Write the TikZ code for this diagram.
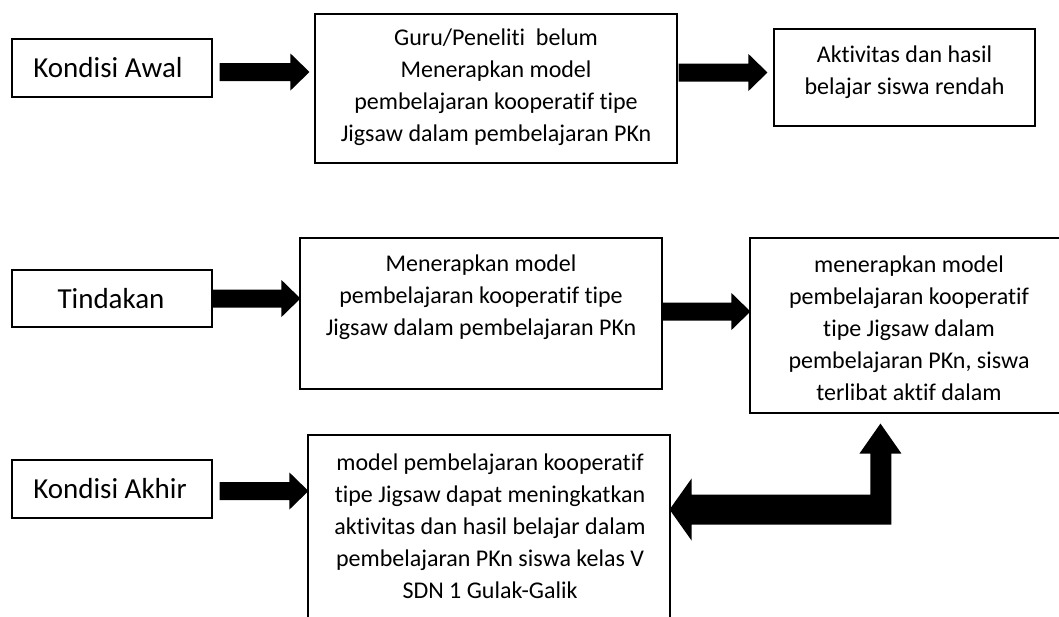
\documentclass[tikz,border=0pt]{standalone}
\usepackage{fontspec}
\setmainfont{Carlito}[Ligatures=NoCommon]
\usetikzlibrary{calc}
\tikzset{
  box/.style={draw=black, line width=1.1pt, rectangle, inner sep=0pt, fill=white},
  lbl/.style={font=\fontsize{29}{35}\selectfont, inner sep=0pt},
  txt/.style={font=\fontsize{24}{32}\selectfont, align=center, inner sep=0pt},
  arrfill/.style={fill=black},
}
\newcommand{\blockarr}[2]{%
  \fill[arrfill] let \p1=(#1), \p2=(#2) in
    (\x1,\y1+9pt) -- (\x2-19pt,\y1+9pt) -- (\x2-19pt,\y1+18.5pt) -- (\x2,\y1)
    -- (\x2-19pt,\y1-18.5pt) -- (\x2-19pt,\y1-9pt) -- (\x1,\y1-9pt) -- cycle;}
\begin{document}
\begin{tikzpicture}[x=1pt,y=-1pt]
\useasboundingbox (0,0) rectangle (1059,616);
\clip (0,0) rectangle (1059,616);
% label boxes
\node[box, minimum width=200pt, minimum height=58pt] (k1) at (112,68) {};
\node[box, minimum width=200pt, minimum height=57pt] (k2) at (112,298.5) {};
\node[box, minimum width=200pt, minimum height=58pt] (k3) at (112,489) {};
\node[lbl] (k1t) at (108,68) {Kondisi Awal};
\node[lbl] (k2t) at (111,298.5) {Tindakan};
\node[lbl] (k3t) at (110,489) {Kondisi Akhir};
% content boxes
\node[box, minimum width=362pt, minimum height=149pt] (b2) at (496,88.5) {};
\node[box, minimum width=261pt, minimum height=97pt] (b3) at (904.5,77.5) {};
\node[box, minimum width=362pt, minimum height=151pt] (b4) at (481,313.5) {};
\node[box, minimum width=318pt, minimum height=175pt] (b5) at (909,325.5) {};
\node[box, minimum width=362pt, minimum height=183pt] (b6) at (489,526.5) {};
\node[txt] (t2) at (496,87) {Guru/Peneliti~ belum\\Menerapkan model\\pembelajaran kooperatif tipe\\Jigsaw dalam pembelajaran PKn};
\node[txt] (t3) at (904.5,72) {Aktivitas dan hasil\\belajar siswa rendah};
\node[txt] (t4) at (481,297) {Menerapkan model\\pembelajaran kooperatif tipe\\Jigsaw dalam pembelajaran PKn};
\node[txt] (t5) at (909,328.5) {menerapkan model\\pembelajaran kooperatif\\tipe Jigsaw dalam\\pembelajaran PKn, siswa\\terlibat aktif dalam};
\node[txt] (t6) at (490,526) {model pembelajaran kooperatif\\tipe Jigsaw dapat meningkatkan\\aktivitas dan hasil belajar dalam\\pembelajaran PKn siswa kelas V\\SDN 1 Gulak-Galik};
% arrow end points
\coordinate (a1s) at ($(k1.east)+(7,4)$);
\coordinate (a1e) at ($(b2.west)+(-5,0)$);
\coordinate (a2s) at ($(b2.east)+(1,-16)$);
\coordinate (a2e) at ($(b3.west)+(-6,0)$);
\coordinate (a3s) at (k2.east);
\coordinate (a3e) at ($(b4.west)+(1,0)$);
\coordinate (a4s) at ($(b4.east)+(0,-2)$);
\coordinate (a4e) at ($(b5.west)+(1,0)$);
\coordinate (a5s) at ($(k3.east)+(7,2)$);
\coordinate (a5e) at ($(b6.west)+(1,0)$);
\blockarr{a1s}{a1e}
\blockarr{a2s}{a2e}
\blockarr{a3s}{a3e}
\blockarr{a4s}{a4e}
\blockarr{a5s}{a5e}
% bent arrow from b6 region up to b5
\coordinate (e1) at ($(b6.east)+(-1,-17)$);
\coordinate (e2) at ($(b5.south west)+(131,10)$);
\fill[arrfill] let \p1=(e1), \p2=(e2) in
  (\x1,\y1) -- (\x1+22pt,\y1+31pt) -- (\x1+22pt,\y1+15pt) -- (\x2-10pt,\y1+15pt)
  -- (\x2-10pt,\y2-30pt) -- (\x2-21pt,\y2-30pt) -- (\x2,\y2) -- (\x2+21pt,\y2-30pt)
  -- (\x2+11pt,\y2-30pt) -- (\x2+11pt,\y1-15pt) -- (\x1+22pt,\y1-15pt)
  -- (\x1+22pt,\y1-31pt) -- cycle;
\end{tikzpicture}
\end{document}
